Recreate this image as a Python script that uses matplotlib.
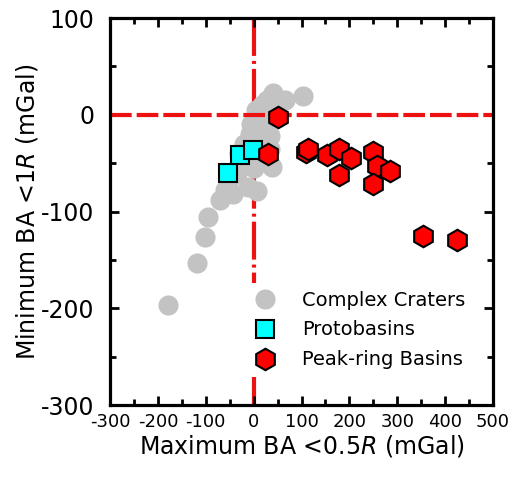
import matplotlib
matplotlib.use("Agg")
import matplotlib.pyplot as plt
from matplotlib.ticker import MultipleLocator

plt.rcParams['font.family'] = ['DejaVu Sans']
plt.rcParams['axes.unicode_minus'] = False

# Complex craters (gray circles)
cc_x = [-178, -118, -101, -95, -70, -60, -43, -12, 7, -50, -35, -25, -15, -30, -20,
        -8, -5, 10, 38, 15, 5, 18, 28, 40, 25, 35, 20, 30, 40, 65, 103, 12, -2, 35, 0]
cc_y = [-197, -153, -126, -106, -88, -78, -82, -75, -79, -65, -60, -50, -45, -40, -30,
        -20, -10, -25, -54, 0, 5, 10, 15, 23, -5, -22, -12, 5, 12, 15, 19, -45, -35, -35, -55]

# Protobasins (cyan squares)
pb_x = [-53, -28, -1]
pb_y = [-60, -42, -36]

# Peak-ring basins (red hexagons)
pr_x = [51, 30, 110, 114, 153, 178, 204, 178, 250, 257, 285, 250, 354, 425]
pr_y = [-2, -41, -38, -35, -42, -35, -45, -62, -39, -53, -58, -72, -125, -129]

fig = plt.figure(figsize=(5.17, 4.78), dpi=100)
ax = fig.add_axes([0.2128, 0.1527, 0.7408, 0.8096])

# dashed zero lines
ax.plot([0, 0], [100, -300], color='#ee1111', lw=3, zorder=1,
        linestyle=(0, (9.1, 1.2, 0.72, 1.2)), dash_capstyle='butt')
ax.axhline(0, color='#ee1111', lw=3, zorder=2.5,
           linestyle=(0, (5.2, 1.2)), dash_capstyle='butt')

ax.plot(cc_x, cc_y, 'o', ms=14.5, color='#c3c3c3', mec='none', zorder=2,
        label='Complex Craters')
ax.plot(pb_x, pb_y, 's', ms=12.5, mfc='#00ffff', mec='black', mew=1.5, zorder=3,
        label='Protobasins')
ax.plot(pr_x, pr_y, 'h', ms=15.5, mfc='#ff0000', mec='black', mew=1.5, zorder=4,
        label='Peak-ring Basins')

ax.set_xlim(-300, 500)
ax.set_ylim(-300, 100)
ax.xaxis.set_major_locator(MultipleLocator(100))
ax.xaxis.set_minor_locator(MultipleLocator(50))
ax.yaxis.set_major_locator(MultipleLocator(100))
ax.yaxis.set_minor_locator(MultipleLocator(50))

ax.tick_params(which='both', direction='in', top=True, right=True, width=2)
ax.tick_params(which='major', length=6.5)
ax.tick_params(which='minor', length=4.5)
ax.tick_params(axis='x', labelsize=13, pad=6)
ax.tick_params(axis='y', labelsize=17, pad=11)
for s in ax.spines.values():
    s.set_linewidth(2.3)

ax.set_xlabel('Maximum BA <0.5$\\mathit{R}$ (mGal)', fontsize=17, labelpad=1)
ax.set_ylabel('Minimum BA <1$\\mathit{R}$ (mGal)', fontsize=17, labelpad=1)

leg = ax.legend(loc='center left', bbox_to_anchor=(0.333, 0.194), fontsize=14,
                frameon=True, fancybox=False, edgecolor='none', facecolor='white',
                framealpha=1, numpoints=1, handlelength=1.0, handletextpad=1.4,
                borderpad=0.4, labelspacing=0.56)
leg.set_zorder(5)

fig.savefig('out.png', dpi=100)
